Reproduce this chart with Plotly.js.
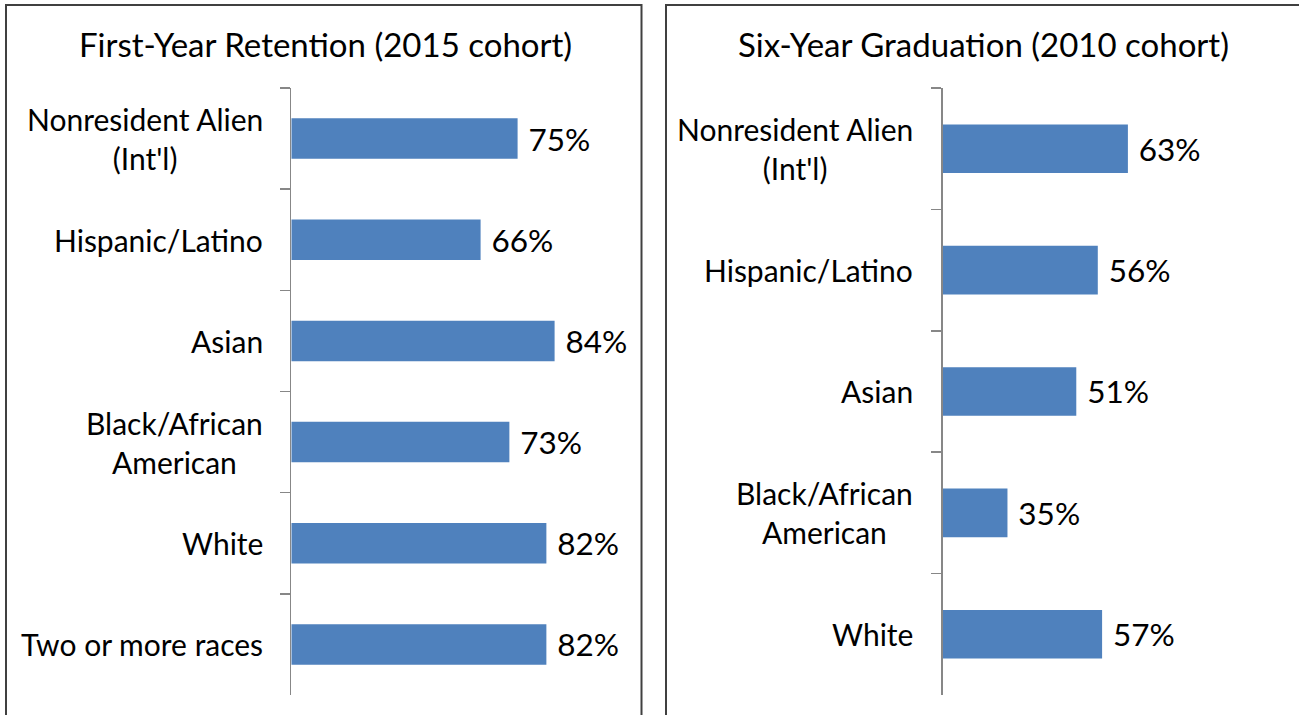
<!DOCTYPE html>
<html>
<head>
<meta charset="utf-8">
<script src="https://cdn.plot.ly/plotly-3.0.1.min.js"></script>
<style>html,body{margin:0;padding:0;background:#fff}#chart{width:1299px;height:715px}</style>
</head>
<body>
<div id="chart"></div>
<script>
// ---- data ----
var retentionTitle = "First-Year Retention (2015 cohort)";
var retentionCategories = ["Nonresident Alien<br>(Int'l)", "Hispanic/Latino", "Asian", "Black/African<br>American", "White", "Two or more races"];
var retentionValues = [75, 66, 84, 73, 82, 82];

var graduationTitle = "Six-Year Graduation (2010 cohort)";
var graduationCategories = ["Nonresident Alien<br>(Int'l)", "Hispanic/Latino", "Asian", "Black/African<br>American", "White"];
var graduationValues = [63, 56, 51, 35, 57];

// ---- styling ----
var FONT = "Lato, 'Open Sans', sans-serif";
var BAR = "#4F81BD";
var AXIS = "#878787";

function barTrace(cats, vals, xa, ya) {
  return {
    type: "bar", orientation: "h",
    y: cats, x: vals, xaxis: xa, yaxis: ya,
    marker: {color: BAR, line: {width: 0}},
    text: vals.map(function (v) { return "\u2005" + v + "%"; }),
    textposition: "outside", constraintext: "none", cliponaxis: false,
    textfont: {family: FONT, size: 31.5, color: "#000"},
    hoverinfo: "skip"
  };
}

var data = [
  barTrace(retentionCategories, retentionValues, "x", "y"),
  barTrace(graduationCategories, graduationValues, "x2", "y2")
];

var yDomain = [0.028, 0.8769];
function yAxis(anchor) {
  return {
    anchor: anchor, domain: yDomain, type: "category", autorange: "reversed",
    showline: true, linecolor: AXIS, linewidth: 1.5,
    ticks: "outside", tickson: "boundaries", ticklen: 10, tickcolor: AXIS, tickwidth: 1.5,
    showticklabels: false, showgrid: false, zeroline: false, fixedrange: true
  };
}
function xAxis(anchor, domain, range) {
  return {
    anchor: anchor, domain: domain, range: range,
    showline: false, showticklabels: false, showgrid: false, zeroline: false, ticks: "", fixedrange: true
  };
}

var annotations = [];
function catLabels(cats, ya, xPaper) {
  cats.forEach(function (c) {
    annotations.push({
      text: c, xref: "paper", yref: ya, x: xPaper, y: c,
      xanchor: "right", yanchor: "middle", align: "center", showarrow: false,
      font: {family: FONT, size: 30, color: "#000"}
    });
  });
}
catLabels(retentionCategories, "y", 265 / 1299);
catLabels(graduationCategories, "y2", 915 / 1299);

annotations.push({text: retentionTitle, xref: "paper", yref: "paper", x: 325 / 1299, y: 1 - 44 / 715,
  xanchor: "center", yanchor: "middle", showarrow: false, font: {family: FONT, size: 33, color: "#000"}});
annotations.push({text: graduationTitle, xref: "paper", yref: "paper", x: 983 / 1299, y: 1 - 44 / 715,
  xanchor: "center", yanchor: "middle", showarrow: false, font: {family: FONT, size: 33, color: "#000"}});

var layout = {
  width: 1299, height: 715,
  margin: {l: 0, r: 0, t: 0, b: 0},
  paper_bgcolor: "#fff", plot_bgcolor: "rgba(0,0,0,0)",
  showlegend: false, bargap: 0.6,
  xaxis: xAxis("y", [0.2244, 0.4934], [20, 105]),
  yaxis: yAxis("x"),
  xaxis2: xAxis("y2", [0.7259, 0.9908], [20, 100]),
  yaxis2: yAxis("x2"),
  annotations: annotations,
  shapes: [
    {type: "rect", xref: "paper", yref: "paper", x0: 6 / 1299, x1: 641.5 / 1299, y0: -0.05, y1: 1 - 5 / 715,
      line: {color: "#404040", width: 2}},
    {type: "rect", xref: "paper", yref: "paper", x0: 666 / 1299, x1: 1.01, y0: -0.05, y1: 1 - 5 / 715,
      line: {color: "#404040", width: 2}}
  ]
};

Plotly.newPlot("chart", data, layout, {displayModeBar: false, staticPlot: true});
</script>
</body>
</html>
